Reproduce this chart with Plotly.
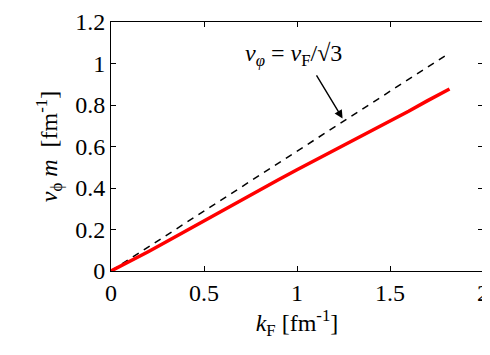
import plotly.graph_objects as go
import numpy as np

# red curve: v_phi * m vs k_F
k_red = [0.0, 0.1, 0.2, 0.3, 0.4, 0.5, 0.6, 0.7, 0.8, 0.9, 1.0, 1.1, 1.2, 1.3, 1.4, 1.5, 1.6, 1.7, 1.82]
v_red = [0.0, 0.045, 0.093, 0.142, 0.192, 0.242, 0.292, 0.343, 0.392, 0.44, 0.488,
         0.535, 0.581, 0.627, 0.674, 0.721, 0.77, 0.82, 0.877]

# dashed reference line v_phi = v_F / sqrt(3)
k_dash = [0.0, 1.82]
v_dash = [0.0, 1.82 / np.sqrt(3)]

serif = "Liberation Serif"
fs = 24

fig = go.Figure()
fig.add_trace(go.Scatter(x=k_dash, y=v_dash, mode="lines",
                         line=dict(color="black", width=1.5, dash="7px,6px")))
fig.add_trace(go.Scatter(x=k_red, y=v_red, mode="lines",
                         line=dict(color="#ff0000", width=3.5)))

fig.add_annotation(x=1.245, y=0.735, ax=1.1, ay=0.95, xref="x", yref="y",
                   axref="x", ayref="y", text="", showarrow=True,
                   arrowhead=2, arrowsize=1.2, arrowwidth=1.4, arrowcolor="black")
fig.add_annotation(x=0.98, y=1.04, xref="x", yref="y", showarrow=False,
                   text="<i>v</i><sub><i>φ</i></sub> = <i>v</i><sub>F</sub>/√3",
                   font=dict(family=serif, size=fs, color="black"))

axis_common = dict(showgrid=False, zeroline=False, showline=True, linecolor="black",
                   linewidth=1, mirror="ticks", ticks="inside", ticklen=5,
                   tickcolor="black", automargin=False, ticklabeloverflow="allow",
                   tickfont=dict(family=serif, size=fs, color="black"))

fig.update_layout(
    width=490, height=355,
    margin=dict(l=103, r=15, t=14, b=92),
    plot_bgcolor="white", paper_bgcolor="white",
    showlegend=False,
    xaxis=dict(range=[0, 2], tickvals=[0, 0.5, 1, 1.5, 2], ticktext=["0", "0.5", "1", "1.5", "2"],
               title=dict(text="<i>k</i><sub>F</sub> [fm<sup>-1</sup>]",
                          font=dict(family=serif, size=fs, color="black"), standoff=8),
               **axis_common),
    yaxis=dict(range=[0, 1.2], tickvals=[0, 0.2, 0.4, 0.6, 0.8, 1, 1.2],
               ticktext=["0", "0.2", "0.4", "0.6", "0.8", "1", "1.2"],
               title=dict(text="<i>v</i><sub>ϕ</sub> <i>m</i>  [fm<sup>-1</sup>]",
                          font=dict(family=serif, size=fs, color="black"), standoff=10),
               **axis_common),
)

fig.write_html("out.html")
